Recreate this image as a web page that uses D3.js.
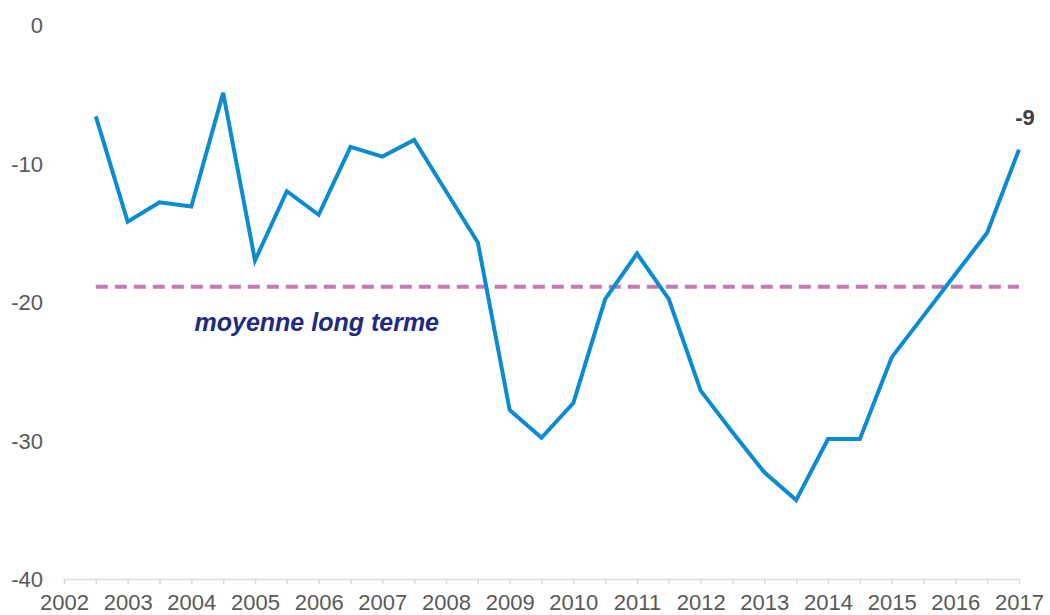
<!DOCTYPE html>
<html>
<head>
    <meta charset="utf-8">
    <title>Solde d'opinion</title>
    <script src="https://d3js.org/d3.v7.min.js"></script>
    <style>
        body {
            margin: 0;
            background: #ffffff;
        }
        .axis text {
            font-family: "Liberation Sans", Arial, sans-serif;
            font-size: 22px;
            fill: #595959;
        }
        .line {
            fill: none;
            stroke: #0b8bd1;
            stroke-width: 4px;
            stroke-linejoin: miter;
        }
        .mean {
            stroke: #c479b5;
            stroke-width: 4px;
            stroke-dasharray: 12 7;
        }
    </style>
</head>
<body>
    <div id="chart"></div>

    <script>
        // Half-year periods: index 0 = start of 2002, index 30 = start of 2017
        const years = [2002, 2003, 2004, 2005, 2006, 2007, 2008, 2009,
                       2010, 2011, 2012, 2013, 2014, 2015, 2016, 2017];

        // Series values, one per half-year (periods 1..30)
        const periods = d3.range(1, 31);
        const values = [-6.6, -14.2, -12.8, -13.1, -4.9, -17.0, -12.0, -13.7, -8.8, -9.5,
                        -8.3, -12.0, -15.7, -27.8, -29.8, -27.3, -19.8, -16.5, -19.8, -26.4,
                        -29.4, -32.3, -34.3, -29.9, -29.9, -24.0, -21.0, -18.0, -15.0, -9.0];

        const yTicks = [0, -10, -20, -30, -40];
        const longTermMean = -18.9;
        const meanLabel = "moyenne long terme";

        const width = 1050;
        const height = 615;

        const x = d3.scaleLinear()
            .domain([0, 30])
            .range([64, 1019]);

        const y = d3.scaleLinear()
            .domain([-40, 0])
            .range([579, 25]);

        // plain hyphen for negatives, like the original
        const fmt = d => String(Math.round(d));

        const svg = d3.select("#chart")
            .append("svg")
            .attr("width", width)
            .attr("height", height);

        // Y axis (labels only)
        const yAxis = svg.append("g")
            .attr("class", "axis")
            .attr("transform", "translate(43,0)")
            .call(d3.axisLeft(y).tickValues(yTicks).tickSize(0).tickPadding(0).tickFormat(fmt));
        yAxis.select(".domain").remove();
        yAxis.selectAll("text").attr("dy", "0.35em");

        // X axis with a tick for every half-year, label at each January
        const xAxis = svg.append("g")
            .attr("class", "axis")
            .attr("transform", `translate(0,${y(-40)})`)
            .call(d3.axisBottom(x)
                .tickValues(d3.range(0, 31))
                .tickSize(5)
                .tickSizeOuter(0)
                .tickPadding(10)
                .tickFormat(i => i % 2 === 0 ? years[i / 2] : ""));
        xAxis.select(".domain")
            .attr("stroke", "#d9d9d9")
            .attr("stroke-width", 1.5);
        xAxis.selectAll(".tick line")
            .attr("stroke", "#d9d9d9")
            .attr("stroke-width", 1.5);

        // Long-term mean
        svg.append("line")
            .attr("class", "mean")
            .attr("x1", x(1))
            .attr("x2", x(30))
            .attr("y1", y(longTermMean))
            .attr("y2", y(longTermMean));

        svg.append("text")
            .attr("x", x(4.1))
            .attr("y", y(longTermMean) + 44)
            .attr("font-family", "'Liberation Sans', Arial, sans-serif")
            .attr("font-size", "25px")
            .attr("font-weight", "bold")
            .attr("font-style", "italic")
            .attr("fill", "#1f2a80")
            .text(meanLabel);

        // Series line
        const line = d3.line()
            .x((d, i) => x(periods[i]))
            .y(d => y(d));

        svg.append("path")
            .datum(values)
            .attr("class", "line")
            .attr("d", line);

        // Last value label
        const last = values[values.length - 1];
        svg.append("text")
            .attr("x", x(periods[periods.length - 1]) + 6)
            .attr("y", y(last) - 25)
            .attr("text-anchor", "middle")
            .attr("font-family", "'Liberation Sans', Arial, sans-serif")
            .attr("font-size", "22px")
            .attr("font-weight", "bold")
            .attr("fill", "#404040")
            .text(fmt(last));
    </script>
</body>
</html>
